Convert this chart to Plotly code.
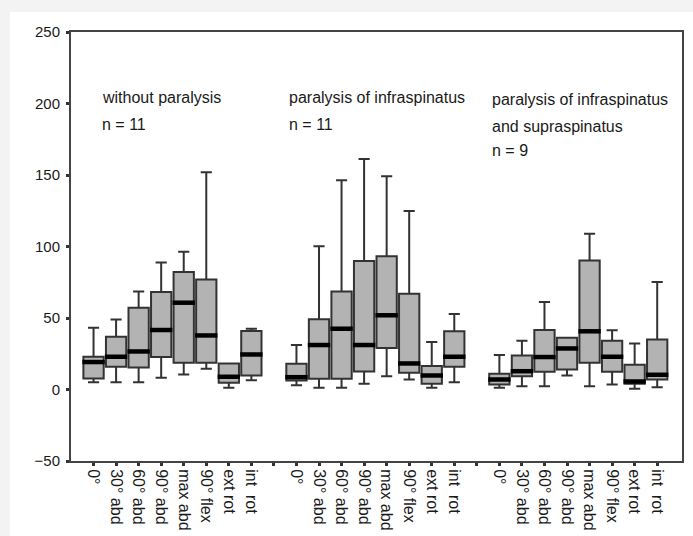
import plotly.graph_objects as go

categories = ["0°", "30° abd", "60° abd", "90° abd", "max abd", "90° flex", "ext rot", "int  rot"]

group_titles = [
    "without paralysis<br>n = 11",
    "paralysis of infraspinatus<br>n = 11",
    "paralysis of infraspinatus<br>and supraspinatus<br>n = 9",
]

# group 1: without paralysis
g1_lower = [5.1, 5.1, 5.1, 8.2, 10.5, 14.5, 1.2, 6.5]
g1_q1 = [7.7, 15.9, 15.4, 22.7, 18.7, 18.7, 4.7, 9.8]
g1_median = [19.2, 22.9, 26.6, 41.6, 60.7, 37.8, 8.9, 24.5]
g1_q3 = [22.9, 36.9, 57.2, 68.2, 82.2, 76.9, 18.2, 40.9]
g1_upper = [43.2, 49.0, 68.5, 88.8, 96.3, 152.0, 18.2, 42.5]

# group 2: paralysis of infraspinatus
g2_lower = [3.0, 1.2, 1.2, 4.0, 9.3, 7.0, 1.2, 5.1]
g2_q1 = [6.3, 7.5, 7.5, 12.6, 29.0, 11.7, 4.0, 15.9]
g2_median = [8.6, 31.1, 42.5, 31.1, 51.9, 18.2, 9.8, 22.9]
g2_q3 = [18.0, 49.1, 68.5, 89.9, 93.2, 67.0, 16.4, 40.7]
g2_upper = [31.1, 100.2, 146.3, 161.2, 149.1, 124.8, 33.2, 52.8]

# group 3: paralysis of infraspinatus and supraspinatus
g3_lower = [1.2, 2.3, 2.3, 9.8, 2.3, 3.5, 0.5, 1.6]
g3_q1 = [3.5, 9.3, 12.4, 14.0, 18.7, 12.4, 4.0, 7.0]
g3_median = [7.0, 12.8, 22.7, 28.7, 40.7, 22.9, 5.6, 10.3]
g3_q3 = [11.0, 23.8, 41.6, 36.2, 90.2, 34.1, 17.3, 35.0]
g3_upper = [24.1, 34.1, 61.2, 36.2, 108.9, 41.4, 32.2, 75.2]

y_ticks = [-50, 0, 50, 100, 150, 200, 250]

groups = [
    (g1_lower, g1_q1, g1_median, g1_q3, g1_upper),
    (g2_lower, g2_q1, g2_median, g2_q3, g2_upper),
    (g3_lower, g3_q1, g3_median, g3_q3, g3_upper),
]

FONT = "Liberation Sans, Arial, sans-serif"
n_cat = len(categories)
slot = n_cat + 1

fig = go.Figure()
tickvals, ticktext = [], []
for g, (lo, q1, med, q3, up) in enumerate(groups):
    xs = [g * slot + i for i in range(n_cat)]
    fig.add_trace(go.Box(
        x=xs, lowerfence=lo, q1=q1, median=med, q3=q3, upperfence=up,
        width=0.9, whiskerwidth=0.55,
        fillcolor="#b3b3b3", line=dict(color="#333333", width=2),
        boxpoints=False, showlegend=False, hoverinfo="skip",
    ))
    fig.add_trace(go.Scatter(
        x=xs, y=med, mode="markers", showlegend=False, hoverinfo="skip",
        marker=dict(symbol="line-ew", size=16, line=dict(color="#000000", width=4.5)),
    ))
    for i in range(n_cat):
        tickvals.append(g * slot + i)
        ticktext.append(categories[i])
    if g < len(groups) - 1:
        tickvals.append(g * slot + n_cat)
        ticktext.append("")

ann_pos = [(0.28, [204.4, 185.0]), (8.6, [204.4, 185.0]), (17.6, [202.6, 184.1, 167.3])]
for g, title in enumerate(group_titles):
    x0, ys = ann_pos[g]
    for line, yv in zip(title.split("<br>"), ys):
        fig.add_annotation(x=x0, y=yv, xref="x", yref="y", text=line, showarrow=False,
                           xanchor="left", yanchor="middle",
                           font=dict(family=FONT, size=16, color="#1a1a1a"))

fig.add_shape(type="rect", xref="paper", yref="paper", x0=-0.0998, x1=1.05, y0=-0.2, y1=1.0466,
              fillcolor="white", line=dict(width=0), layer="below")

fig.update_layout(
    width=693, height=536,
    margin=dict(l=71, r=11, t=32, b=75, autoexpand=False),
    paper_bgcolor="#f3f3f3", plot_bgcolor="rgba(0,0,0,0)",
    font=dict(family=FONT, size=15, color="#222222"),
    xaxis=dict(range=[-1, 26.1], tickvals=tickvals, ticktext=ticktext, tickangle=90,
               automargin=False,
               showgrid=False, zeroline=False, showline=True, linecolor="#444444", linewidth=2,
               mirror=True, ticks="outside", ticklen=3, tickwidth=3, tickcolor="#333333",
               tickfont=dict(size=16, family=FONT, color="#1a1a1a")),
    yaxis=dict(range=[-50, 250], tickvals=y_ticks, showgrid=False, zeroline=False,
               automargin=False, ticklabelstandoff=3,
               showline=True, linecolor="#444444", linewidth=2, mirror=True,
               ticks="outside", ticklen=3, tickwidth=3, tickcolor="#333333",
               tickfont=dict(size=15, family=FONT, color="#1a1a1a")),
)

fig.write_html("out.html")
